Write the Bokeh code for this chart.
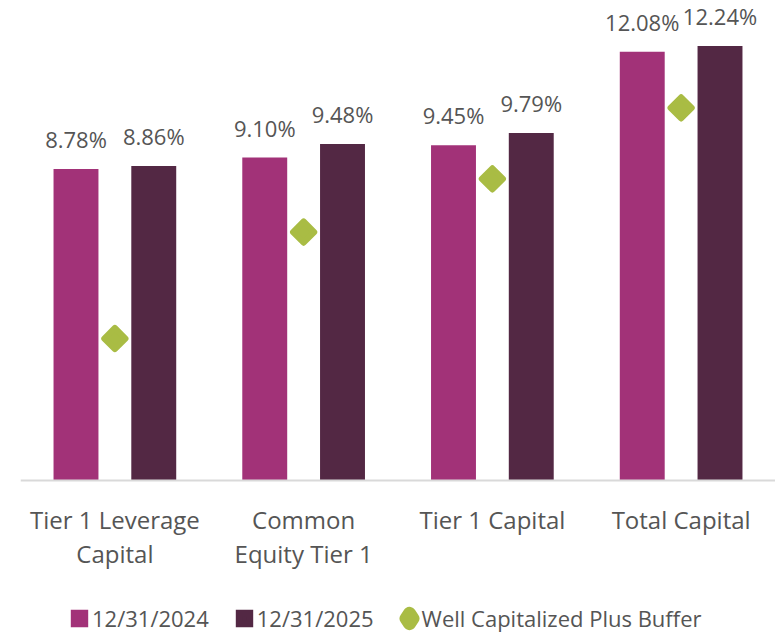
import numpy as np
from bokeh.plotting import figure
from bokeh.models import ColumnDataSource, FactorRange, Legend, LegendItem, Range1d, Span
from bokeh.transform import dodge
from bokeh.core.properties import value
from bokeh.embed import file_html
from bokeh.resources import INLINE

# ---- data ----
categories = ["Tier 1 Leverage\nCapital", "Common\nEquity Tier 1", "Tier 1 Capital", "Total Capital"]
series_2024 = [8.78, 9.10, 9.45, 12.08]
series_2025 = [8.86, 9.48, 9.79, 12.24]
well_cap_buffer = [4.0, 7.0, 8.5, 10.5]
series_names = ["12/31/2024", "12/31/2025", "Well Capitalized Plus Buffer"]

C1 = "#A23278"
C2 = "#532844"
C3 = "#A9BC44"
TXT = "#555555"
FONT = "Open Sans"

src = ColumnDataSource(dict(
    cat=categories,
    a=series_2024,
    b=series_2025,
    w=well_cap_buffer,
    base=[0] * len(categories),
    la=[f"{v:.2f}%" for v in series_2024],
    lb=[f"{v:.2f}%" for v in series_2025],
))

# frame covers the whole lower area so the legend can sit inside it
p = figure(width=775, height=633, x_range=FactorRange(*categories, range_padding=0),
           y_range=Range1d(-4.31, 13.3), output_backend="svg", toolbar_location=None,
           min_border_left=20, min_border_right=0, min_border_top=8, min_border_bottom=0)
p.outline_line_color = None
p.background_fill_color = "white"
p.border_fill_color = "white"
p.xaxis.visible = False
p.yaxis.visible = False
p.xgrid.grid_line_color = None
p.ygrid.grid_line_color = None

off = 0.206
bw = 0.238
r1 = p.vbar(x=dodge("cat", -off, range=p.x_range), top="a", width=bw, source=src,
            fill_color=C1, line_color=None)
r2 = p.vbar(x=dodge("cat", off, range=p.x_range), top="b", width=bw, source=src,
            fill_color=C2, line_color=None)
r3 = p.scatter(x="cat", y="w", source=src, marker="square", angle=np.pi / 4, size=15,
               fill_color=C3, line_color=C3, line_width=6, line_join="round")

for xo, col, ycol in ((-off, "la", "a"), (off, "lb", "b")):
    p.text(x=dodge("cat", xo, range=p.x_range), y=ycol, text=col, source=src,
           text_align="center", text_baseline="alphabetic", y_offset=-30,
           text_font=value(FONT), text_font_size="22px", text_color=TXT)

# baseline (category axis line)
p.add_layout(Span(location=0, dimension="width", line_color="#D9D9D9", line_width=2))

# category labels
p.text(x="cat", y="base", text="cat", source=src, text_align="center", text_baseline="top",
       y_offset=22, text_font=value(FONT), text_font_size="24px", text_color=TXT,
       text_line_height=1.05)

# legend-only swatches (hidden renderers; legend markers ignore angle, so use diamond marker)
l1 = p.scatter(x="cat", y="a", source=src, marker="square", size=10,
               fill_color=C1, line_color=C1, line_width=7, line_join="miter", visible=False)
l2 = p.scatter(x="cat", y="b", source=src, marker="square", size=10,
               fill_color=C2, line_color=C2, line_width=7, line_join="miter", visible=False)
l3 = p.scatter(x="cat", y="w", source=src, marker="diamond", size=10,
               fill_color=C3, line_color=C3, line_width=13, line_join="round", visible=False)

legend = Legend(items=[LegendItem(label=series_names[0], renderers=[l1]),
                       LegendItem(label=series_names[1], renderers=[l2]),
                       LegendItem(label=series_names[2], renderers=[l3])],
                orientation="horizontal", location=(46, 0))
legend.border_line_color = None
legend.background_fill_alpha = 0
legend.inactive_fill_alpha = 0
legend.label_text_font = FONT
legend.label_text_font_size = "22px"
legend.label_text_color = TXT
legend.glyph_width = 26
legend.glyph_height = 26
legend.label_standoff = 0
legend.spacing = 22
legend.padding = 0
legend.margin = 0
p.add_layout(legend)

open("out.html", "w").write(file_html(p, INLINE))
